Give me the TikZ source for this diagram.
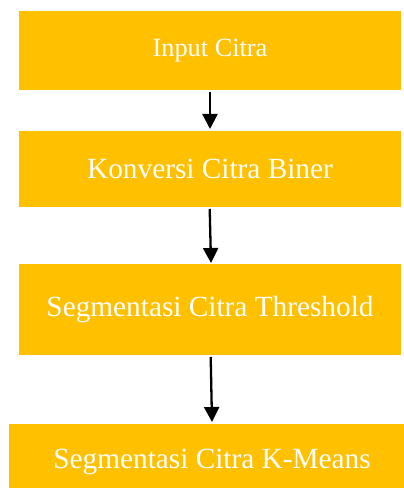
\documentclass[tikz,border=0pt]{standalone}
\usepackage{fontspec}
\setmainfont{Liberation Serif}
\usetikzlibrary{arrows.meta}
\definecolor{gold}{HTML}{FFC000}
\begin{document}
\begin{tikzpicture}[x=1bp,y=1bp,
  box/.style={rectangle, fill=gold, draw=none, inner sep=0pt, text=white,
    minimum width=382bp, font=\fontsize{29.4}{35}\selectfont},
  flow/.style={line width=2.3bp, -{Triangle[width=15bp,length=15bp]}}]
\useasboundingbox (0,0) rectangle (403,488);
\node[box, minimum height=79.5bp, font=\fontsize{26.4}{32}\selectfont] (b1) at (210,437.25) {Input Citra};
\node[box, minimum height=76bp] (b2) at (210,319) {Konversi Citra Biner};
\node[box, minimum height=91bp] (b3) at (210,178.5) {Segmentasi Citra Threshold};
\node[box, minimum height=76bp, minimum width=406bp] (b4) at (212,26) {Segmentasi Citra K-Means};
\coordinate (a1s) at (210,396);
\coordinate (a1e) at (210,359);
\coordinate (a2s) at (209.7,279);
\coordinate (a2e) at (211,225);
\coordinate (a3s) at (210.7,131);
\coordinate (a3e) at (212,66);
\draw[flow] (a1s) -- (a1e);
\draw[flow] (a2s) -- (a2e);
\draw[flow] (a3s) -- (a3e);
\end{tikzpicture}
\end{document}
